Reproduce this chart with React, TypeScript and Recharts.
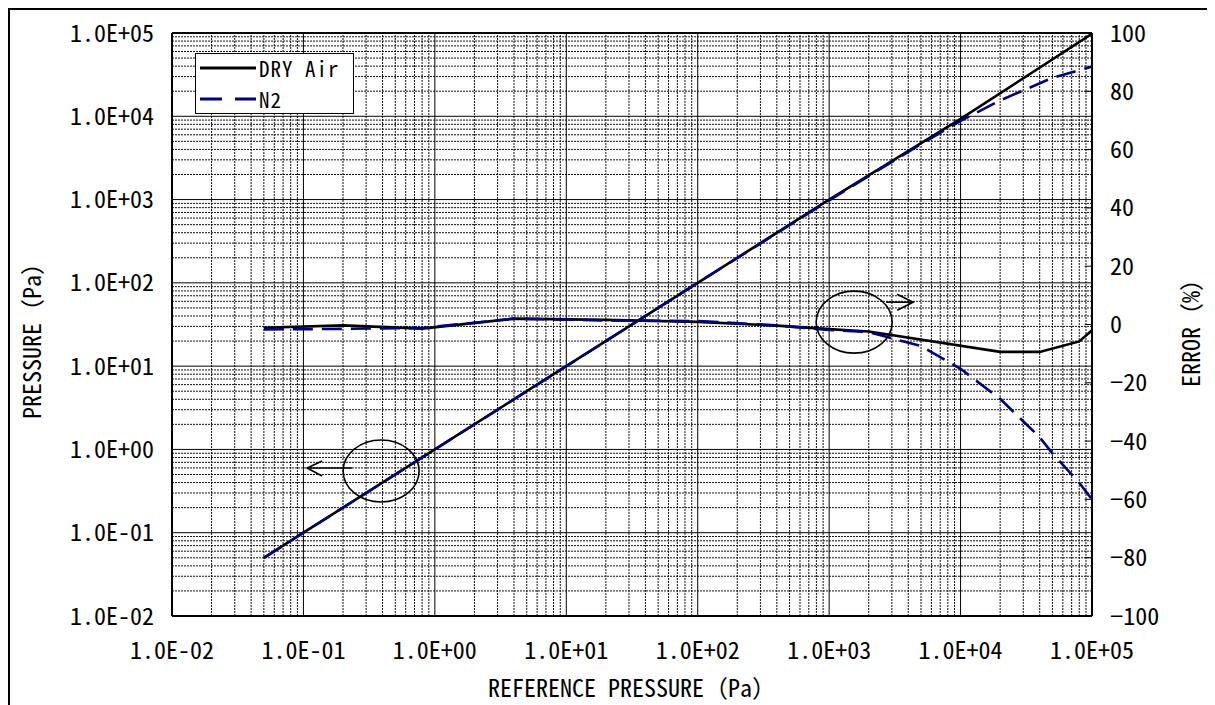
import { ComposedChart, Line, ReferenceDot, ReferenceLine, XAxis, YAxis } from 'recharts'

const FONT = "'Noto Sans Mono CJK JP', 'Liberation Mono', 'Noto Sans CJK JP', monospace"
const NAVY = '#000080'

// log axes: one tick per decade, both for the x axis and the left y axis
const DECADES = [0.01, 0.1, 1, 10, 100, 1000, 10000, 100000]
const DECADE_LABELS = ['1.0E-02', '1.0E-01', '1.0E+00', '1.0E+01', '1.0E+02', '1.0E+03', '1.0E+04', '1.0E+05']
const MINOR_STEPS = [2, 3, 4, 5, 6, 7, 8, 9]
const ERROR_TICKS = [-100, -80, -60, -40, -20, 0, 20, 40, 60, 80, 100]

// left axis: indicated pressure vs reference pressure (Pa)
const REF_DRY = [0.05, 0.1, 1, 10, 100, 1000, 10000, 100000]
const PRESS_DRY = [0.05, 0.1, 1, 10, 100, 1000, 9300, 98000]
const REF_N2 = [0.05, 0.1, 1, 10, 100, 1000, 5000, 10000, 20000, 50000, 100000]
const PRESS_N2 = [0.05, 0.1, 1, 10, 100, 980, 4630, 8800, 15500, 29000, 39500]

// right axis: error (%)
const ERR_REF_DRY = [0.05, 0.2, 0.8, 4, 20, 100, 400, 1000, 2000, 20000, 40000, 80000, 100000]
const ERR_DRY = [-1.1, -0.3, -1.4, 2.0, 1.6, 0.9, -0.4, -1.6, -2.4, -9.4, -9.4, -5.8, -2.0]
const ERR_REF_N2 = [0.05, 0.2, 0.8, 4, 20, 100, 400, 1000, 2000, 5000, 10000, 20000, 40000, 50000, 80000, 100000]
const ERR_N2 = [-1.7, -1.5, -1.2, 2.0, 1.4, 1.2, -0.3, -1.9, -2.6, -7.4, -15.2, -25.5, -38.7, -44.2, -54.3, -60.0]

const SERIES = [
  { name: 'DRY Air', color: '#000', dash: undefined as string | undefined },
  { name: 'N2', color: NAVY, dash: '20 9' },
]

// where the "which axis" circles sit, in data coordinates
const MARK_LEFT = { x: 0.39, y: 0.55 }
const MARK_RIGHT = { x: 1550, y: 0.8 }

const zip = (xs: number[], ys: number[]) => xs.map((x, i) => ({ x, y: ys[i] }))

const minors = DECADES.slice(0, -1).flatMap(d => MINOR_STEPS.map(m => d * m))

const decadeLabel = (v: number) => {
  const i = DECADES.findIndex(d => Math.abs(Math.log10(d) - Math.log10(v)) < 1e-6)
  return i >= 0 ? DECADE_LABELS[i] : ''
}

const tickStyle = { fontSize: 24, fill: '#000', fontFamily: FONT }

function LeftMark({ cx, cy }: any) {
  return (
    <g fill="none" stroke="#000" strokeWidth={1.6}>
      <ellipse cx={cx} cy={cy} rx={38} ry={31} />
      <line x1={cx - 29} y1={cy - 3} x2={cx - 74} y2={cy - 3} />
      <polyline points={`${cx - 59},${cy - 10} ${cx - 74},${cy - 3} ${cx - 59},${cy + 5}`} />
    </g>
  )
}

function RightMark({ cx, cy }: any) {
  return (
    <g fill="none" stroke="#000" strokeWidth={1.6}>
      <ellipse cx={cx} cy={cy} rx={38} ry={31} />
      <line x1={cx + 32} y1={cy - 20} x2={cx + 59} y2={cy - 20} />
      <polyline points={`${cx + 43},${cy - 28} ${cx + 59},${cy - 20} ${cx + 43},${cy - 12}`} />
    </g>
  )
}

export default function App() {
  const dry = zip(REF_DRY, PRESS_DRY)
  const n2 = zip(REF_N2, PRESS_N2)
  const errDry = zip(ERR_REF_DRY, ERR_DRY)
  const errN2 = zip(ERR_REF_N2, ERR_N2)

  return (
    <div style={{ position: 'relative', width: 1207, height: 697, fontFamily: FONT, background: '#fff' }}>
      <div style={{ position: 'absolute', left: 0, top: 0, width: 1220, height: 710, borderLeft: '2px solid #000', borderTop: '2px solid #000', boxSizing: 'border-box' }} />
      <ComposedChart width={1207} height={697} margin={{ top: 25, right: 0, bottom: 0, left: 0 }}>
        <XAxis
          dataKey="x"
          type="number"
          scale="log"
          domain={[0.01, 100000]}
          allowDataOverflow
          ticks={DECADES}
          tickFormatter={decadeLabel}
          tick={tickStyle}
          tickLine={false}
          axisLine={false}
          tickMargin={20}
          height={89}
        />
        <YAxis
          yAxisId="left"
          type="number"
          scale="log"
          domain={[0.01, 100000]}
          allowDataOverflow
          ticks={DECADES}
          tickFormatter={decadeLabel}
          tick={tickStyle}
          tickLine={false}
          axisLine={false}
          tickMargin={12}
          width={164}
        />
        <YAxis
          yAxisId="right"
          orientation="right"
          type="number"
          domain={[-100, 100]}
          ticks={ERROR_TICKS}
          tickFormatter={(v: number) => (v < 0 ? `\u2212${-v}` : `${v}`)}
          tick={tickStyle}
          tickLine={false}
          axisLine={false}
          tickMargin={12}
          width={123}
        />

        {minors.map(v => (
          <ReferenceLine key={`vx${v}`} x={v} yAxisId="left" stroke="#111" strokeWidth={1} strokeDasharray="2 1" />
        ))}
        {minors.map(v => (
          <ReferenceLine key={`hy${v}`} y={v} yAxisId="left" stroke="#111" strokeWidth={1} strokeDasharray="2 1" />
        ))}
        {DECADES.map(v => (
          <ReferenceLine key={`VX${v}`} x={v} yAxisId="left" stroke="#000" strokeWidth={1} />
        ))}
        {DECADES.map(v => (
          <ReferenceLine key={`HY${v}`} y={v} yAxisId="left" stroke="#000" strokeWidth={1} />
        ))}
        {ERROR_TICKS.slice(1, -1).map(v => (
          <ReferenceLine
            key={`rt${v}`}
            yAxisId="right"
            segment={[{ x: 88000, y: v }, { x: 100000, y: v }]}
            stroke="#000"
            strokeWidth={1}
          />
        ))}
        <ReferenceLine x={0.01} yAxisId="left" stroke="#000" strokeWidth={2} />
        <ReferenceLine x={100000} yAxisId="left" stroke="#000" strokeWidth={2} />
        <ReferenceLine y={0.01} yAxisId="left" stroke="#000" strokeWidth={2} />
        <ReferenceLine y={100000} yAxisId="left" stroke="#000" strokeWidth={2} />

        <Line data={dry} dataKey="y" yAxisId="left" type="linear" stroke={SERIES[0].color} strokeWidth={2.6} dot={false} isAnimationActive={false} />
        <Line data={errDry} dataKey="y" yAxisId="right" type="linear" stroke={SERIES[0].color} strokeWidth={2.6} dot={false} isAnimationActive={false} />
        <Line data={n2} dataKey="y" yAxisId="left" type="linear" stroke={SERIES[1].color} strokeWidth={2.6} strokeDasharray={SERIES[1].dash} dot={false} isAnimationActive={false} />
        <Line data={errN2} dataKey="y" yAxisId="right" type="linear" stroke={SERIES[1].color} strokeWidth={2.6} strokeDasharray={SERIES[1].dash} dot={false} isAnimationActive={false} />

        <ReferenceDot x={MARK_LEFT.x} y={MARK_LEFT.y} yAxisId="left" shape={(p: any) => <LeftMark {...p} />} />
        <ReferenceDot x={MARK_RIGHT.x} y={MARK_RIGHT.y} yAxisId="right" shape={(p: any) => <RightMark {...p} />} />
      </ComposedChart>

      <div style={{ position: 'absolute', left: 187, top: 45, width: 159, height: 61, border: '1.5px solid #000', background: '#fff', boxSizing: 'border-box' }}>
        {SERIES.map((s, i) => (
          <div key={s.name} style={{ position: 'absolute', left: 4, top: 2 + i * 31, height: 24, display: 'flex', alignItems: 'center', whiteSpace: 'nowrap' }}>
            <svg width={56} height={6} style={{ display: 'block' }}>
              <line x1={0} y1={3} x2={56} y2={3} stroke={s.color} strokeWidth={3} strokeDasharray={s.dash ? '22 13' : undefined} />
            </svg>
            <span style={{ fontSize: 21, lineHeight: '24px', marginLeft: 3, letterSpacing: 1 }}>{s.name}</span>
          </div>
        ))}
      </div>

      <div style={{ position: 'absolute', left: 23, top: 327, transform: 'translate(-50%, -50%) rotate(-90deg)', fontSize: 24, lineHeight: '26px', whiteSpace: 'nowrap' }}>
        PRESSURE（Pa）
      </div>
      <div style={{ position: 'absolute', left: 1182, top: 319, transform: 'translate(-50%, -50%) rotate(-90deg)', fontSize: 24, lineHeight: '26px', whiteSpace: 'nowrap' }}>
        ERROR（%）
      </div>
      <div style={{ position: 'absolute', left: 624, top: 679, transform: 'translate(-50%, -50%)', fontSize: 24, lineHeight: '26px', whiteSpace: 'nowrap' }}>
        REFERENCE PRESSURE（Pa）
      </div>
    </div>
  )
}
